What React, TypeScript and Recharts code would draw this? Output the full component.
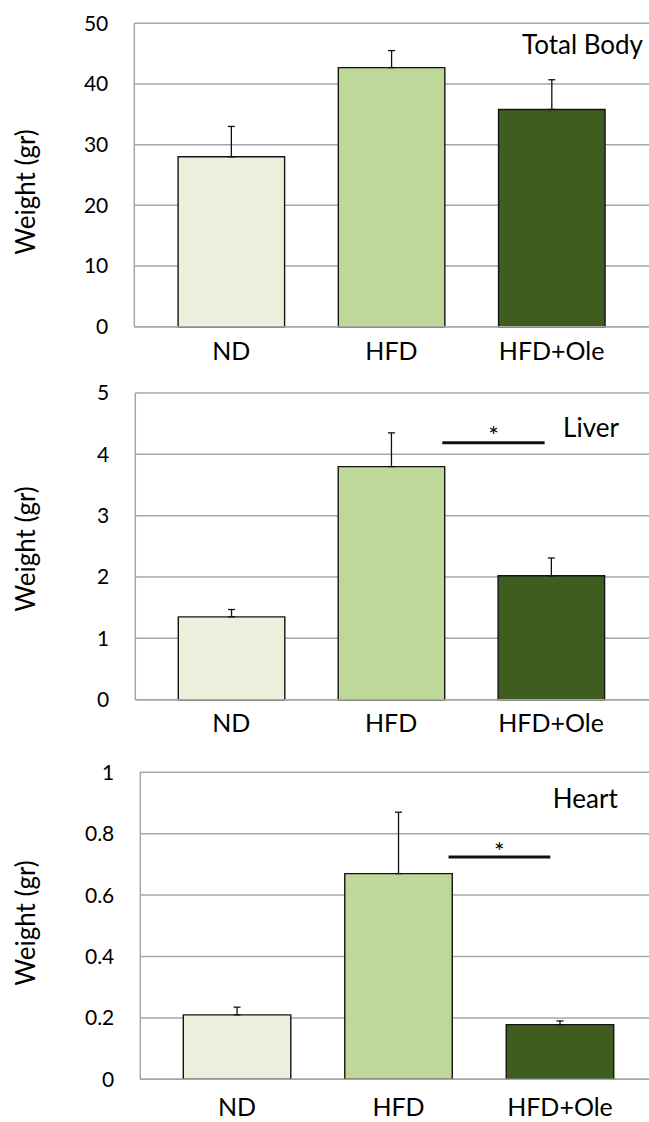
import React from 'react';
import {
  BarChart,
  Bar,
  XAxis,
  YAxis,
  CartesianGrid,
  Cell,
  ErrorBar,
  ReferenceLine,
  Label,
  Customized,
} from 'recharts';

const FONT = 'Lato, "Open Sans", sans-serif';
const GRID = '#A6A6A6';

const groups = ['ND', 'HFD', 'HFD+Ole'];
const groupPos = [0.5, 1.5, 2.5];
const fills = ['#EBF0DC', '#BDD898', '#3E5D1E'];

const bodyMean = [28, 42.7, 35.8];
const bodyErr = [5, 2.8, 4.9];
const bodyTicks = [0, 10, 20, 30, 40, 50];

const liverMean = [1.35, 3.8, 2.02];
const liverErr = [0.12, 0.55, 0.29];
const liverTicks = [0, 1, 2, 3, 4, 5];
// significance bar, in category units (0..3) and value
const liverSig = [1.82, 2.46];
const liverSigY = 4.19;

const heartMean = [0.21, 0.67, 0.178];
const heartErr = [0.025, 0.2, 0.012];
const heartTicks = [0, 0.2, 0.4, 0.6, 0.8, 1];
const heartSig = [1.81, 2.44];
const heartSigY = 0.724;

function rows(mean: number[], err: number[]) {
  return groups.map((g, i) => ({ x: groupPos[i], group: g, mean: mean[i], err: [0, err[i]] }));
}

type PanelProps = {
  top: number;
  height: number;
  gridTop: number;
  zeroY: number;
  plotLeft: number;
  padL: number;
  padR: number;
  barSize: number;
  xGap: number;
  ticks: number[];
  data: { x: number; group: string; mean: number; err: number[] }[];
  title: string;
  titleX: number;
  titleY: number;
  labelY: number;
  sig?: number[];
  sigY?: number;
  starOffset?: number;
};

function Panel(p: PanelProps) {
  const max = p.ticks[p.ticks.length - 1];
  return (
    <div style={{ position: 'absolute', left: 0, top: p.top }}>
      <BarChart
        width={649}
        height={p.height}
        data={p.data}
        margin={{ top: p.gridTop - p.top, right: 0, bottom: 0, left: 0 }}
      >
        <CartesianGrid vertical={false} stroke={GRID} strokeWidth={1.5} />
        <XAxis
          dataKey="x"
          type="number"
          domain={[0, 3]}
          allowDataOverflow
          ticks={groupPos}
          tickFormatter={(v: number) => groups[Math.floor(v)]}
          height={p.top + p.height - p.zeroY}
          interval={0}
          tickLine={false}
          tickSize={0}
          tickMargin={p.xGap}
          axisLine={{ stroke: GRID, strokeWidth: 1.5 }}
          padding={{ left: p.padL, right: p.padR }}
          tick={{ fill: '#000', fontSize: 25, fontFamily: FONT }}
        />
        <YAxis
          width={p.plotLeft}
          domain={[0, max]}
          ticks={p.ticks}
          interval={0}
          tickLine={false}
          tickSize={0}
          tickMargin={26}
          axisLine={{ stroke: GRID, strokeWidth: 1.5 }}
          tick={{ fill: '#000', fontSize: 21, fontFamily: FONT }}
        >
          <Label
            content={() => {
              const cy = p.labelY - p.top;
              return (
                <text
                  x={35}
                  y={cy}
                  transform={`rotate(-90 35 ${cy})`}
                  textAnchor="middle"
                  fontFamily={FONT}
                  fontSize={26}
                  fill="#000"
                >
                  Weight (gr)
                </text>
              );
            }}
          />
        </YAxis>
        <Bar
          dataKey="mean"
          barSize={p.barSize}
          stroke="#141414"
          strokeWidth={1.4}
          isAnimationActive={false}
        >
          {p.data.map((_, i) => (
            <Cell key={i} fill={fills[i]} />
          ))}
          <ErrorBar dataKey="err" direction="y" width={3.5} stroke="#111" strokeWidth={1.3} />
        </Bar>
        {p.sig && (
          <ReferenceLine
            segment={[
              { x: p.sig[0], y: p.sigY },
              { x: p.sig[1], y: p.sigY },
            ]}
            ifOverflow="visible"
            stroke="#111"
            strokeWidth={3}
          >
            <Label value="*" position="top" offset={p.starOffset} fontSize={25} fill="#000" fontFamily={FONT} />
          </ReferenceLine>
        )}
        <Customized
          component={() => (
            <text
              x={p.titleX}
              y={p.titleY - p.top}
              textAnchor="middle"
              fontFamily={FONT}
              fontSize={26}
              fill="#000"
            >
              {p.title}
            </text>
          )}
        />
      </BarChart>
    </div>
  );
}

export default function App() {
  return (
    <div
      style={{
        position: 'absolute',
        left: 0,
        top: 0,
        width: 649,
        height: 1122,
        overflow: 'hidden',
        background: '#fff',
      }}
    >
      <Panel
        top={0}
        height={375}
        gridTop={23.3}
        zeroY={326.7}
        plotLeft={134.3}
        padL={16.8}
        padR={17.2}
        barSize={106.5}
        xGap={16}
        ticks={bodyTicks}
        data={rows(bodyMean, bodyErr)}
        title="Total Body"
        titleX={582.5}
        titleY={54}
        labelY={192}
      />
      <Panel
        top={375}
        height={375}
        gridTop={393}
        zeroY={699.7}
        plotLeft={135.3}
        padL={16}
        padR={18}
        barSize={106.5}
        xGap={15}
        ticks={liverTicks}
        data={rows(liverMean, liverErr)}
        title="Liver"
        titleX={591}
        titleY={436.7}
        labelY={549}
        sig={liverSig}
        sigY={liverSigY}
        starOffset={-2}
      />
      <Panel
        top={750}
        height={372}
        gridTop={772.3}
        zeroY={1079.3}
        plotLeft={140.3}
        padL={16}
        padR={8.3}
        barSize={107.5}
        xGap={19}
        ticks={heartTicks}
        data={rows(heartMean, heartErr)}
        title="Heart"
        titleX={585.3}
        titleY={808.3}
        labelY={923}
        sig={heartSig}
        sigY={heartSigY}
        starOffset={-4}
      />
    </div>
  );
}
